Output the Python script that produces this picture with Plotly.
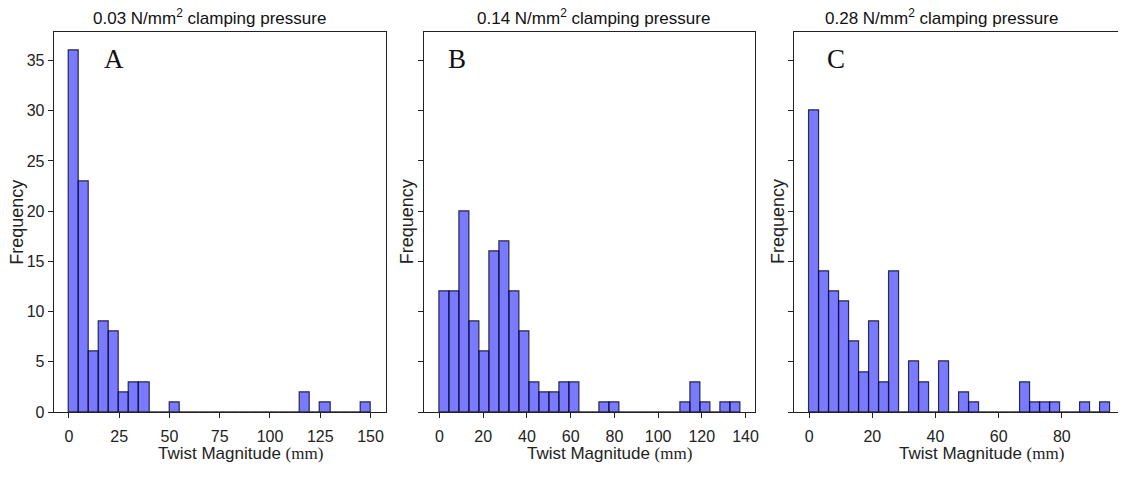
import numpy as np
import plotly.graph_objects as go

W, H = 1122, 477

# ---------------- data ----------------
panel_letters = ["A", "B", "C"]
panel_titles = [
    "0.03 N/mm<sup>2</sup> clamping pressure",
    "0.14 N/mm<sup>2</sup> clamping pressure",
    "0.28 N/mm<sup>2</sup> clamping pressure",
]
# histogram bin limits (min, max) and counts per bin (30 bins each)
bins_a = (0.0, 150.0)
counts_a = [36, 23, 6, 9, 8, 2, 3, 3, 0, 0, 1, 0, 0, 0, 0, 0, 0, 0, 0, 0,
            0, 0, 0, 2, 0, 1, 0, 0, 0, 1]
bins_b = (0.0, 137.6)
counts_b = [12, 12, 20, 9, 6, 16, 17, 12, 8, 3, 2, 2, 3, 3, 0, 0, 1, 1, 0, 0,
            0, 0, 0, 0, 1, 3, 1, 0, 1, 1]
bins_c = (0.0, 95.25)
counts_c = [30, 14, 12, 11, 7, 4, 9, 3, 14, 0, 5, 3, 0, 5, 0, 2, 1, 0, 0, 0,
            0, 3, 1, 1, 1, 0, 0, 1, 0, 1]
xticks_a = [0, 25, 50, 75, 100, 125, 150]
xticks_b = [0, 20, 40, 60, 80, 100, 120, 140]
xticks_c = [0, 20, 40, 60, 80]
yticks = [0, 5, 10, 15, 20, 25, 30, 35]

# ---------------- layout geometry (px) ----------------
plot_top, plot_bottom = 33, 420
panels_px = [(54, 387), (426, 758), (797, 1122)]
title_cx = [210, 596, 945]
letter_cx = [114, 459, 839]
xtitle_cx = [241, 612, 985]
ylabel_x = [17, 408, 781]

FILL = "rgba(0,0,255,0.52)"
EDGE = "rgba(15,15,45,0.85)"
AXC = "#222222"
SANS = "Liberation Sans, Arial, sans-serif"
SERIF = "Liberation Serif, Times New Roman, serif"

fig = go.Figure()

datasets = [(bins_a, counts_a, xticks_a), (bins_b, counts_b, xticks_b), (bins_c, counts_c, xticks_c)]
ymax = max(max(counts_a), max(counts_b), max(counts_c)) * 1.05

for i, ((lo, hi), counts, xt) in enumerate(datasets):
    n = len(counts)
    edges = np.linspace(lo, hi, n + 1)
    centers = (edges[:-1] + edges[1:]) / 2
    width = edges[1] - edges[0]
    xa = "x" if i == 0 else f"x{i+1}"
    ya = "y" if i == 0 else f"y{i+1}"
    fig.add_trace(go.Bar(
        x=centers, y=counts, width=width, xaxis=xa, yaxis=ya,
        marker=dict(color=FILL, line=dict(color=EDGE, width=1.2)),
        showlegend=False, hoverinfo="x+y",
    ))
    pad = 0.05 * (hi - lo)
    x0p, x1p = panels_px[i]
    rlo, rhi = lo - pad, hi + pad
    if i == 2:
        # panel C is cut off at the right edge of the image
        full_right = 1129.0
        frac = (x1p - x0p) / (full_right - x0p)
        rhi = rlo + (rhi - rlo) * frac
    dom_x = [x0p / W, x1p / W]
    dom_y = [1 - plot_bottom / H, 1 - plot_top / H]
    xkey = "xaxis" if i == 0 else f"xaxis{i+1}"
    ykey = "yaxis" if i == 0 else f"yaxis{i+1}"
    fig.layout[xkey] = dict(
        domain=dom_x, range=[rlo, rhi], anchor=ya,
        showline=True, linecolor=AXC, linewidth=1.2, mirror=True,
        ticks="outside", ticklen=5, tickwidth=1, tickcolor=AXC,
        tickvals=xt, ticktext=[str(v) for v in xt], ticklabelstandoff=5,
        tickfont=dict(family=SANS, size=16, color=AXC),
        showgrid=False, zeroline=False, fixedrange=True,
    )
    fig.layout[ykey] = dict(
        domain=dom_y, range=[0, ymax], anchor=xa,
        showline=True, linecolor=AXC, linewidth=1.2, mirror=(i < 2),
        ticks="outside", ticklen=5, tickwidth=1, tickcolor=AXC,
        tickvals=yticks, ticktext=[str(v) for v in yticks],
        showticklabels=(i == 0),
        tickfont=dict(family=SANS, size=16, color=AXC),
        showgrid=False, zeroline=False, fixedrange=True,
    )

annotations = []
for i in range(3):
    annotations.append(dict(
        x=title_cx[i] / W, y=1 - 17 / H, xref="paper", yref="paper",
        text=panel_titles[i], showarrow=False, xanchor="center", yanchor="middle",
        font=dict(family=SANS, size=17, color="#111111"),
    ))
    annotations.append(dict(
        x=letter_cx[i] / W, y=1 - 60 / H, xref="paper", yref="paper",
        text=panel_letters[i], showarrow=False, xanchor="center", yanchor="middle",
        font=dict(family=SERIF, size=27, color="#111111"),
    ))
    annotations.append(dict(
        x=xtitle_cx[i] / W, y=1 - 451 / H, xref="paper", yref="paper",
        text="Twist Magnitude <span style=\"font-family:'Liberation Serif', serif; font-size:17px\">(mm)</span>",
        showarrow=False, xanchor="center", yanchor="top",
        font=dict(family=SANS, size=17, color=AXC),
    ))
    annotations.append(dict(
        x=ylabel_x[i] / W, y=1 - 226 / H, xref="paper", yref="paper",
        text="Frequency", textangle=-90, showarrow=False,
        xanchor="center", yanchor="middle",
        font=dict(family=SANS, size=18, color=AXC),
    ))

fig.update_layout(
    width=W, height=H,
    margin=dict(l=0, r=0, t=0, b=0),
    paper_bgcolor="white", plot_bgcolor="white",
    bargap=0, annotations=annotations,
)

fig.write_html("out.html", include_plotlyjs=True, config={"displayModeBar": False})
